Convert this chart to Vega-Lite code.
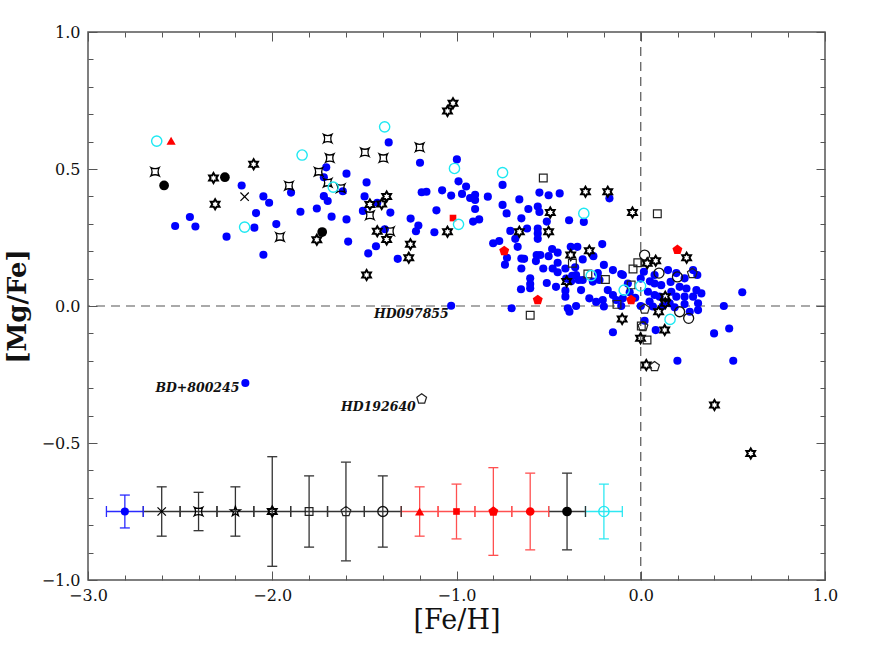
{
"$schema": "https://vega.github.io/schema/vega-lite/v6.json",
"width": 737, "height": 548,
"autosize": "none",
"padding": {"left": 88, "top": 32, "right": 50, "bottom": 74},
"background": "white",
"config": {
 "view": {"stroke": "#555", "strokeWidth": 1.5},
 "axis": {"domain": false, "grid": false, "tickColor": "#555", "tickWidth": 1, "labelFont": "DejaVu Serif", "labelFontSize": 16, "labelColor": "#111", "titleFont": "DejaVu Serif", "titleColor": "#111", "labelFlush": false, "labelOverlap": false, "labelBound": false}
},
"datasets": {
 "blue": [
  {"x":-2.166,"y":0.440},{"x":-2.048,"y":0.400},{"x":-2.017,"y":0.377},{"x":-2.088,"y":0.339},{"x":-2.447,"y":0.325},{"x":-2.527,"y":0.292},{"x":-2.417,"y":0.290},{"x":-2.097,"y":0.286},{"x":-2.248,"y":0.253},{"x":-1.978,"y":0.299},{"x":-2.048,"y":0.187},{"x":-1.898,"y":0.414},{"x":-1.847,"y":0.344},
  {"x":-1.368,"y":0.597},{"x":-1.198,"y":0.523},{"x":-1.707,"y":0.506},{"x":-1.597,"y":0.483},{"x":-1.720,"y":0.470},{"x":-1.617,"y":0.419},{"x":-1.488,"y":0.451},{"x":-1.499,"y":0.400},{"x":-1.720,"y":0.401},{"x":-1.699,"y":0.383},{"x":-1.758,"y":0.356},{"x":-1.678,"y":0.326},{"x":-1.597,"y":0.316},{"x":-1.508,"y":0.347},{"x":-1.430,"y":0.377},{"x":-1.359,"y":0.341},{"x":-1.249,"y":0.319},{"x":-1.207,"y":0.294},{"x":-1.220,"y":0.273},{"x":-1.588,"y":0.235},{"x":-1.389,"y":0.280},{"x":-1.437,"y":0.218},{"x":-1.479,"y":0.192},{"x":-1.319,"y":0.172},{"x":-1.163,"y":0.417},{"x":-1.189,"y":0.415},
  {"x":-0.998,"y":0.535},{"x":-0.750,"y":0.442},{"x":-0.989,"y":0.455},{"x":-0.948,"y":0.436},{"x":-0.970,"y":0.409},{"x":-1.029,"y":0.403},{"x":-1.078,"y":0.422},{"x":-0.926,"y":0.394},{"x":-0.899,"y":0.406},{"x":-0.899,"y":0.387},{"x":-0.830,"y":0.399},{"x":-0.899,"y":0.354},{"x":-0.877,"y":0.316},{"x":-0.910,"y":0.308},{"x":-1.109,"y":0.349},{"x":-1.120,"y":0.269},{"x":-0.659,"y":0.389},{"x":-0.750,"y":0.369},{"x":-0.728,"y":0.338},{"x":-0.610,"y":0.354},{"x":-0.648,"y":0.320},{"x":-0.559,"y":0.363},{"x":-0.550,"y":0.414},{"x":-0.500,"y":0.404},{"x":-0.440,"y":0.411},{"x":-0.550,"y":0.343},{"x":-0.510,"y":0.308},{"x":-0.389,"y":0.313},{"x":-0.708,"y":0.274},{"x":-0.617,"y":0.283},{"x":-0.559,"y":0.283},{"x":-0.559,"y":0.265},{"x":-0.559,"y":0.245},{"x":-0.681,"y":0.245},{"x":-0.801,"y":0.229},{"x":-0.768,"y":0.237},{"x":-0.668,"y":0.216},{"x":-0.726,"y":0.176},{"x":-0.737,"y":0.151},{"x":-0.648,"y":0.173},{"x":-0.633,"y":0.172},{"x":-0.648,"y":0.137},{"x":-0.565,"y":0.186},{"x":-0.545,"y":0.186},{"x":-0.569,"y":0.164},{"x":-0.500,"y":0.182},{"x":-0.481,"y":0.208},{"x":-0.451,"y":0.195},{"x":-0.529,"y":0.137},{"x":-0.451,"y":0.158},{"x":-0.478,"y":0.137},{"x":-0.451,"y":0.123},{"x":-0.409,"y":0.137},{"x":-0.380,"y":0.216},{"x":-0.344,"y":0.216},{"x":-0.600,"y":0.101},{"x":-0.600,"y":0.080},{"x":-0.600,"y":0.065},{"x":-0.650,"y":0.061},{"x":-0.510,"y":0.084},{"x":-0.460,"y":0.070},{"x":-0.409,"y":0.056},{"x":-0.409,"y":0.034},{"x":-1.029,"y":0.001},{"x":-0.701,"y":-0.008},{"x":-0.351,"y":0.113},{"x":-0.337,"y":0.095},{"x":-0.351,"y":0.000},
  {"x":-0.309,"y":0.307},{"x":-0.209,"y":0.226},{"x":-0.315,"y":0.170},{"x":-0.257,"y":0.182},{"x":-0.200,"y":0.150},{"x":-0.151,"y":0.131},{"x":-0.106,"y":0.117},{"x":-0.170,"y":0.393},{"x":-0.315,"y":0.095},{"x":-0.324,"y":0.058},{"x":-0.233,"y":0.120},{"x":-0.224,"y":0.095},{"x":-0.260,"y":0.089},{"x":-0.279,"y":0.028},{"x":-0.242,"y":0.015},{"x":-0.206,"y":0.022},{"x":-0.179,"y":0.058},{"x":-0.151,"y":0.040},{"x":-0.133,"y":0.022},{"x":-0.097,"y":0.028},{"x":-0.396,"y":-0.008},{"x":-0.387,"y":-0.021},{"x":-0.200,"y":-0.002},{"x":-0.151,"y":-0.096},{"x":-0.372,"y":0.110},{"x":-0.378,"y":0.090},{"x":-0.356,"y":0.141},{"x":-0.405,"y":0.100},
  {"x":0.017,"y":0.125},{"x":0.075,"y":0.113},{"x":0.148,"y":0.131},{"x":0.193,"y":0.120},{"x":0.238,"y":0.101},{"x":0.284,"y":0.131},{"x":0.307,"y":0.113},{"x":-0.097,"y":0.113},{"x":-0.070,"y":0.082},{"x":0.075,"y":0.082},{"x":0.111,"y":0.076},{"x":0.162,"y":0.088},{"x":0.211,"y":0.070},{"x":0.248,"y":0.064},{"x":0.302,"y":0.058},{"x":0.329,"y":0.046},{"x":0.039,"y":0.052},{"x":0.075,"y":0.040},{"x":0.102,"y":0.034},{"x":0.166,"y":0.052},{"x":0.193,"y":0.034},{"x":0.238,"y":0.034},{"x":0.284,"y":0.034},{"x":0.048,"y":0.016},{"x":0.066,"y":-0.002},{"x":0.157,"y":0.010},{"x":0.184,"y":-0.005},{"x":0.238,"y":0.007},{"x":0.266,"y":-0.021},{"x":0.311,"y":0.010},{"x":0.311,"y":-0.015},{"x":0.451,"y":0.000},{"x":0.551,"y":0.050},{"x":0.021,"y":-0.054},{"x":0.081,"y":-0.088},{"x":0.398,"y":-0.100},{"x":0.480,"y":-0.082},{"x":0.199,"y":-0.200},{"x":0.502,"y":-0.200},{"x":-0.106,"y":0.000},{"x":-0.060,"y":0.050},{"x":-0.030,"y":0.030},{"x":0.000,"y":0.000},{"x":0.120,"y":0.000},{"x":0.050,"y":0.090},{"x":0.000,"y":0.100},
  {"x":-2.146,"y":-0.281},
  {"x":-2.8,"y":-0.75}
 ],
 "cross": [{"x":-2.150,"y":0.399},{"x":-2.6,"y":-0.75}],
 "quad": [{"x":-2.636,"y":0.490},{"x":-1.958,"y":0.252},{"x":-1.909,"y":0.439},{"x":-1.699,"y":0.611},{"x":-1.688,"y":0.540},{"x":-1.497,"y":0.561},{"x":-1.397,"y":0.540},{"x":-1.200,"y":0.579},{"x":-1.748,"y":0.490},{"x":-1.699,"y":0.450},{"x":-1.628,"y":0.430},{"x":-1.470,"y":0.331},{"x":-1.361,"y":0.273},{"x":-2.4,"y":-0.75}],
 "star5": [{"x":-2.2,"y":-0.75}],
 "star6": [{"x":-2.319,"y":0.467},{"x":-2.101,"y":0.517},{"x":-2.310,"y":0.371},{"x":-1.470,"y":0.370},{"x":-1.406,"y":0.372},{"x":-1.379,"y":0.400},{"x":-1.758,"y":0.242},{"x":-1.430,"y":0.273},{"x":-1.379,"y":0.243},{"x":-1.250,"y":0.225},{"x":-1.259,"y":0.176},{"x":-1.488,"y":0.113},{"x":-1.049,"y":0.712},{"x":-1.019,"y":0.740},{"x":-1.049,"y":0.271},{"x":-0.491,"y":0.341},{"x":-0.659,"y":0.271},{"x":-0.500,"y":0.271},{"x":-0.380,"y":0.186},{"x":-0.402,"y":0.089},{"x":-0.300,"y":0.417},{"x":-0.179,"y":0.417},{"x":-0.045,"y":0.341},{"x":-0.279,"y":0.202},{"x":-0.101,"y":-0.047},{"x":0.081,"y":0.165},{"x":0.035,"y":0.156},{"x":0.249,"y":0.176},{"x":0.097,"y":-0.021},{"x":0.133,"y":0.034},{"x":0.133,"y":0.010},{"x":0.130,"y":-0.088},{"x":-0.001,"y":-0.118},{"x":0.030,"y":-0.215},{"x":0.400,"y":-0.361},{"x":0.597,"y":-0.538},{"x":-2.0,"y":-0.75}],
 "sq": [{"x":-0.529,"y":0.467},{"x":-0.371,"y":0.156},{"x":-0.600,"y":-0.034},{"x":0.090,"y":0.337},{"x":-0.287,"y":0.117},{"x":-0.192,"y":0.097},{"x":-0.129,"y":0.006},{"x":-0.042,"y":0.135},{"x":-0.052,"y":0.077},{"x":-0.016,"y":0.158},{"x":0.003,"y":-0.073},{"x":0.034,"y":-0.124},{"x":-1.8,"y":-0.75}],
 "pent": [{"x":-1.189,"y":-0.339},{"x":0.280,"y":0.119},{"x":0.021,"y":-0.011},{"x":0.012,"y":-0.075},{"x":0.075,"y":-0.221},{"x":-1.6,"y":-0.75}],
 "ocirc": [{"x":0.021,"y":0.186},{"x":0.099,"y":0.120},{"x":0.199,"y":0.106},{"x":0.211,"y":-0.021},{"x":0.260,"y":-0.045},{"x":-1.4,"y":-0.75}],
 "rtri": [{"x":-2.549,"y":0.603},{"x":-1.2,"y":-0.75}],
 "rsq": [{"x":-1.019,"y":0.321},{"x":-1.0,"y":-0.75}],
 "rpent": [{"x":-0.741,"y":0.201},{"x":-0.559,"y":0.022},{"x":-0.052,"y":0.022},{"x":0.199,"y":0.205},{"x":-0.8,"y":-0.75}],
 "rcirc": [{"x":-0.6,"y":-0.75}],
 "bk": [{"x":-2.587,"y":0.440},{"x":-2.257,"y":0.470},{"x":-1.729,"y":0.270},{"x":-0.4,"y":-0.75}],
 "cyan": [{"x":-2.627,"y":0.602},{"x":-2.150,"y":0.288},{"x":-1.838,"y":0.551},{"x":-1.390,"y":0.654},{"x":-1.669,"y":0.434},{"x":-1.011,"y":0.502},{"x":-0.750,"y":0.487},{"x":-0.989,"y":0.298},{"x":-0.309,"y":0.338},{"x":-0.269,"y":0.111},{"x":-0.090,"y":0.058},{"x":-0.001,"y":0.073},{"x":0.159,"y":-0.049},{"x":-0.2,"y":-0.75}],
 "eb": [
  {"x":-2.8,"y":-0.75,"ylo":-0.81,"yhi":-0.69,"xlo":-2.9,"xhi":-2.7,"c":"blue"},
  {"x":-2.6,"y":-0.75,"ylo":-0.84,"yhi":-0.66,"xlo":-2.7,"xhi":-2.5,"c":"black"},
  {"x":-2.4,"y":-0.75,"ylo":-0.82,"yhi":-0.68,"xlo":-2.5,"xhi":-2.3,"c":"black"},
  {"x":-2.2,"y":-0.75,"ylo":-0.84,"yhi":-0.66,"xlo":-2.3,"xhi":-2.1,"c":"black"},
  {"x":-2.0,"y":-0.75,"ylo":-0.95,"yhi":-0.55,"xlo":-2.1,"xhi":-1.9,"c":"black"},
  {"x":-1.8,"y":-0.75,"ylo":-0.88,"yhi":-0.62,"xlo":-1.9,"xhi":-1.7,"c":"black"},
  {"x":-1.6,"y":-0.75,"ylo":-0.93,"yhi":-0.57,"xlo":-1.7,"xhi":-1.5,"c":"black"},
  {"x":-1.4,"y":-0.75,"ylo":-0.88,"yhi":-0.62,"xlo":-1.5,"xhi":-1.3,"c":"black"},
  {"x":-1.2,"y":-0.75,"ylo":-0.84,"yhi":-0.66,"xlo":-1.3,"xhi":-1.1,"c":"red"},
  {"x":-1.0,"y":-0.75,"ylo":-0.85,"yhi":-0.65,"xlo":-1.1,"xhi":-0.9,"c":"red"},
  {"x":-0.8,"y":-0.75,"ylo":-0.91,"yhi":-0.59,"xlo":-0.9,"xhi":-0.7,"c":"red"},
  {"x":-0.6,"y":-0.75,"ylo":-0.89,"yhi":-0.61,"xlo":-0.7,"xhi":-0.5,"c":"red"},
  {"x":-0.4,"y":-0.75,"ylo":-0.89,"yhi":-0.61,"xlo":-0.5,"xhi":-0.3,"c":"black"},
  {"x":-0.2,"y":-0.75,"ylo":-0.85,"yhi":-0.65,"xlo":-0.3,"xhi":-0.1,"c":"cyan"}
 ],
 "labels": [
  {"x":-1.042,"y":-0.029,"t":"HD097855"},
  {"x":-2.178,"y":-0.298,"t":"BD+800245"},
  {"x":-1.221,"y":-0.368,"t":"HD192640"}
 ]
},
"resolve": {"axis": {"x": "independent", "y": "independent"}},
"layer": [
 {"data": {"values": [{"v": 0}]},
  "mark": {"type": "rule", "color": "#555", "strokeDash": [9, 6], "strokeWidth": 1.2},
  "encoding": {"x": {"field": "v", "type": "quantitative", "scale": {"domain": [-3, 1], "nice": false, "zero": false},
   "axis": {"orient": "bottom", "values": [-3, -2, -1, 0, 1], "format": ".1f", "offset": -9, "tickSize": 9, "labelPadding": 7, "title": "[Fe/H]", "titleFontSize": 27, "titleFontWeight": "normal", "titleX": 368.5, "titleY": 49, "titleBaseline": "middle", "titleAlign": "center"}}}},
 {"data": {"values": [{"v": 0}]},
  "mark": {"type": "rule", "color": "#555", "strokeDash": [9, 6], "strokeWidth": 1.2},
  "encoding": {"y": {"field": "v", "type": "quantitative", "scale": {"domain": [-1, 1], "nice": false, "zero": false},
   "axis": {"orient": "left", "values": [-1, -0.5, 0, 0.5, 1], "format": ".1f", "offset": -9, "tickSize": 9, "labelPadding": 8, "title": "[Mg/Fe]", "titleFontSize": 26, "titleFontWeight": "bold", "titleX": -80, "titleY": 274, "titleAngle": -90, "titleAlign": "center", "titleBaseline": "middle"}}}},
 {"data": {"name": "eb"},
  "mark": {"type": "rule", "strokeWidth": 1.3},
  "encoding": {
   "x": {"field": "x", "type": "quantitative", "scale": {"domain": [-3, 1], "nice": false, "zero": false}, "axis": {"orient": "top", "values": [-3, -2, -1, 0, 1], "offset": -9, "tickSize": 9, "labels": false, "title": null}},
   "y": {"field": "ylo", "type": "quantitative", "scale": {"domain": [-1, 1], "nice": false, "zero": false}, "axis": {"orient": "right", "values": [-1, -0.5, 0, 0.5, 1], "offset": -9, "tickSize": 9, "labels": false, "title": null}},
   "y2": {"field": "yhi"},
   "color": {"field": "c", "type": "nominal", "scale": {"domain": ["blue", "black", "red", "cyan"], "range": ["#2a2aff", "#333333", "#ff5050", "#2ee8f2"]}, "legend": null}}},
 {"data": {"name": "eb"},
  "mark": {"type": "rule", "strokeWidth": 1.3},
  "encoding": {
   "x": {"field": "xlo", "type": "quantitative", "scale": {"domain": [-3, 1], "nice": false, "zero": false}, "axis": {"orient": "bottom", "values": [-2.8, -2.6, -2.4, -2.2, -1.8, -1.6, -1.4, -1.2, -0.8, -0.6, -0.4, -0.2, 0.2, 0.4, 0.6, 0.8], "offset": -5, "tickSize": 5, "labels": false, "title": null}},
   "x2": {"field": "xhi"},
   "y": {"field": "y", "type": "quantitative", "scale": {"domain": [-1, 1], "nice": false, "zero": false}, "axis": {"orient": "left", "values": [-0.9, -0.8, -0.7, -0.6, -0.4, -0.3, -0.2, -0.1, 0.1, 0.2, 0.3, 0.4, 0.6, 0.7, 0.8, 0.9], "offset": -5, "tickSize": 5, "labels": false, "title": null}},
   "color": {"field": "c", "type": "nominal", "legend": null}}},
 {"data": {"name": "eb"},
  "mark": {"type": "tick", "orient": "horizontal", "size": 10, "thickness": 1.3, "opacity": 1},
  "encoding": {
   "x": {"field": "x", "type": "quantitative", "scale": {"domain": [-3, 1], "nice": false, "zero": false}, "axis": {"orient": "top", "values": [-2.8, -2.6, -2.4, -2.2, -1.8, -1.6, -1.4, -1.2, -0.8, -0.6, -0.4, -0.2, 0.2, 0.4, 0.6, 0.8], "offset": -5, "tickSize": 5, "labels": false, "title": null}},
   "y": {"field": "ylo", "type": "quantitative", "scale": {"domain": [-1, 1], "nice": false, "zero": false}, "axis": {"orient": "right", "values": [-0.9, -0.8, -0.7, -0.6, -0.4, -0.3, -0.2, -0.1, 0.1, 0.2, 0.3, 0.4, 0.6, 0.7, 0.8, 0.9], "offset": -5, "tickSize": 5, "labels": false, "title": null}},
   "color": {"field": "c", "type": "nominal", "legend": null}}},
 {"data": {"name": "eb"},
  "mark": {"type": "tick", "orient": "horizontal", "size": 10, "thickness": 1.3, "opacity": 1},
  "encoding": {
   "x": {"field": "x", "type": "quantitative", "axis": null},
   "y": {"field": "yhi", "type": "quantitative", "axis": null},
   "color": {"field": "c", "type": "nominal", "legend": null}}},
 {"data": {"name": "eb"},
  "mark": {"type": "tick", "orient": "vertical", "size": 11, "thickness": 1.3, "opacity": 1},
  "encoding": {
   "x": {"field": "xlo", "type": "quantitative", "axis": null},
   "y": {"field": "y", "type": "quantitative", "axis": null},
   "color": {"field": "c", "type": "nominal", "legend": null}}},
 {"data": {"name": "eb"},
  "mark": {"type": "tick", "orient": "vertical", "size": 11, "thickness": 1.3, "opacity": 1},
  "encoding": {
   "x": {"field": "xhi", "type": "quantitative", "axis": null},
   "y": {"field": "y", "type": "quantitative", "axis": null},
   "color": {"field": "c", "type": "nominal", "legend": null}}},
 {"data": {"name": "blue"},
  "mark": {"type": "point", "shape": "circle", "filled": true, "color": "#0000ff", "size": 66, "opacity": 1, "strokeWidth": 0},
  "encoding": {"x": {"field": "x", "type": "quantitative", "axis": null}, "y": {"field": "y", "type": "quantitative", "axis": null}}},
 {"data": {"name": "cross"},
  "mark": {"type": "point", "shape": "M-1,-1L1,1M-1,1L1,-1", "filled": false, "color": "#000", "size": 70, "opacity": 1, "strokeWidth": 1.2},
  "encoding": {"x": {"field": "x", "type": "quantitative", "axis": null}, "y": {"field": "y", "type": "quantitative", "axis": null}}},
 {"data": {"name": "quad"},
  "mark": {"type": "point", "shape": "M-1,-1Q0,-0.45,1,-1Q0.45,0,1,1Q0,0.45,-1,1Q-0.45,0,-1,-1Z", "filled": false, "color": "#000", "size": 70, "opacity": 1, "strokeWidth": 1.3},
  "encoding": {"x": {"field": "x", "type": "quantitative", "axis": null}, "y": {"field": "y", "type": "quantitative", "axis": null}}},
 {"data": {"name": "star5"},
  "mark": {"type": "point", "shape": "M0,-1L0.235,-0.324L0.951,-0.309L0.38,0.124L0.588,0.809L0,0.4L-0.588,0.809L-0.38,0.124L-0.951,-0.309L-0.235,-0.324Z", "filled": false, "color": "#000", "size": 110, "opacity": 1, "strokeWidth": 1.3},
  "encoding": {"x": {"field": "x", "type": "quantitative", "axis": null}, "y": {"field": "y", "type": "quantitative", "axis": null}}},
 {"data": {"name": "star6"},
  "mark": {"type": "point", "shape": "M0,-1L0.289,-0.5L0.866,-0.5L0.577,0L0.866,0.5L0.289,0.5L0,1L-0.289,0.5L-0.866,0.5L-0.577,0L-0.866,-0.5L-0.289,-0.5Z", "filled": false, "color": "#000", "size": 100, "opacity": 1, "strokeWidth": 2},
  "encoding": {"x": {"field": "x", "type": "quantitative", "axis": null}, "y": {"field": "y", "type": "quantitative", "axis": null}}},
 {"data": {"name": "sq"},
  "mark": {"type": "point", "shape": "square", "filled": false, "color": "#222", "size": 60, "opacity": 1, "strokeWidth": 1.2},
  "encoding": {"x": {"field": "x", "type": "quantitative", "axis": null}, "y": {"field": "y", "type": "quantitative", "axis": null}}},
 {"data": {"name": "pent"},
  "mark": {"type": "point", "shape": "M0,-1L0.951,-0.309L0.588,0.809L-0.588,0.809L-0.951,-0.309Z", "filled": false, "color": "#222", "size": 105, "opacity": 1, "strokeWidth": 1.2},
  "encoding": {"x": {"field": "x", "type": "quantitative", "axis": null}, "y": {"field": "y", "type": "quantitative", "axis": null}}},
 {"data": {"name": "ocirc"},
  "mark": {"type": "point", "shape": "circle", "filled": false, "color": "#111", "size": 100, "opacity": 1, "strokeWidth": 1.3},
  "encoding": {"x": {"field": "x", "type": "quantitative", "axis": null}, "y": {"field": "y", "type": "quantitative", "axis": null}}},
 {"data": {"name": "rtri"},
  "mark": {"type": "point", "shape": "triangle-up", "filled": true, "color": "#ff0000", "size": 85, "opacity": 1, "strokeWidth": 0},
  "encoding": {"x": {"field": "x", "type": "quantitative", "axis": null}, "y": {"field": "y", "type": "quantitative", "axis": null}}},
 {"data": {"name": "rsq"},
  "mark": {"type": "point", "shape": "square", "filled": true, "color": "#ff0000", "size": 44, "opacity": 1, "strokeWidth": 0},
  "encoding": {"x": {"field": "x", "type": "quantitative", "axis": null}, "y": {"field": "y", "type": "quantitative", "axis": null}}},
 {"data": {"name": "rpent"},
  "mark": {"type": "point", "shape": "M0,-1L0.951,-0.309L0.588,0.809L-0.588,0.809L-0.951,-0.309Z", "filled": true, "color": "#ff0000", "size": 110, "opacity": 1, "strokeWidth": 0},
  "encoding": {"x": {"field": "x", "type": "quantitative", "axis": null}, "y": {"field": "y", "type": "quantitative", "axis": null}}},
 {"data": {"name": "rcirc"},
  "mark": {"type": "point", "shape": "circle", "filled": true, "color": "#ff0000", "size": 75, "opacity": 1, "strokeWidth": 0},
  "encoding": {"x": {"field": "x", "type": "quantitative", "axis": null}, "y": {"field": "y", "type": "quantitative", "axis": null}}},
 {"data": {"name": "bk"},
  "mark": {"type": "point", "shape": "circle", "filled": true, "color": "#000", "size": 95, "opacity": 1, "strokeWidth": 0},
  "encoding": {"x": {"field": "x", "type": "quantitative", "axis": null}, "y": {"field": "y", "type": "quantitative", "axis": null}}},
 {"data": {"name": "cyan"},
  "mark": {"type": "point", "shape": "circle", "filled": false, "color": "#1ee8f2", "size": 105, "opacity": 1, "strokeWidth": 1.4},
  "encoding": {"x": {"field": "x", "type": "quantitative", "axis": null}, "y": {"field": "y", "type": "quantitative", "axis": null}}},
 {"data": {"name": "labels"},
  "mark": {"type": "text", "align": "right", "baseline": "middle", "font": "DejaVu Serif", "fontStyle": "italic", "fontWeight": "bold", "fontSize": 12.5, "color": "#111"},
  "encoding": {"x": {"field": "x", "type": "quantitative", "axis": null}, "y": {"field": "y", "type": "quantitative", "axis": null}, "text": {"field": "t", "type": "nominal"}}}
]
}
